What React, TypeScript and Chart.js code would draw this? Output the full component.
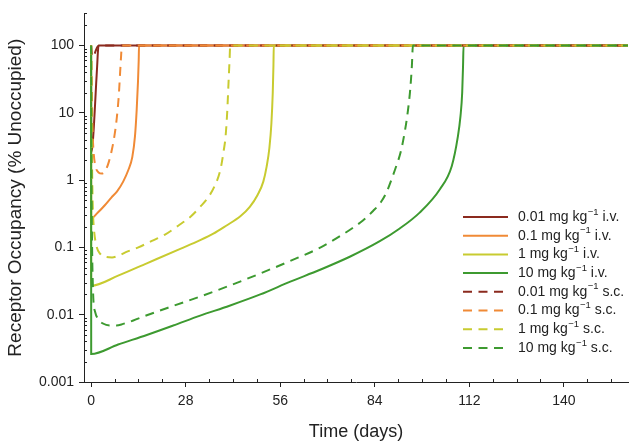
import React, { useEffect, useRef } from 'react';
import { Chart, registerables } from 'chart.js';

Chart.register(...registerables);

const FONT = '"Liberation Sans", Arial, Helvetica, sans-serif';

// axis ticks
const xTicks = [0, 28, 56, 84, 112, 140];
const yTicks = [0.001, 0.01, 0.1, 1, 10, 100];

// legend labels
const doses = ['0.01', '0.1', '1', '10'];
const routes = ['i.v.', 's.c.'];
const colors = ['#8B2A1E', '#F08A36', '#C8CB30', '#3D9A30'];

// 0.01 mg/kg i.v.
const iv001Days = [0, 0.03, 0.4, 0.8, 1.2, 1.5, 1.8, 2.0, 2.2, 159];
const iv001Vals = [100, 2.6, 3.2, 6, 14, 27, 50, 78, 100, 100];

// 0.1 mg/kg i.v.
const iv01Days = [0, 0.03, 2, 4, 6, 7.7, 9.5, 11, 12.2, 13, 13.5, 13.9, 14.1, 14.2, 159];
const iv01Vals = [100, 0.27, 0.33, 0.42, 0.55, 0.68, 0.95, 1.4, 2.2, 4.5, 11, 30, 60, 100, 100];

// 1 mg/kg i.v.
const iv1Days = [0, 0.03, 8, 16.5, 26.4, 32.3, 36.2, 40, 44.2, 47, 49.3, 51, 52, 52.8, 53.4, 53.8, 54, 54.1, 159];
const iv1Vals = [100, 0.027, 0.038, 0.058, 0.095, 0.128, 0.16, 0.21, 0.29, 0.4, 0.6, 0.95, 1.6, 3, 7, 20, 50, 100, 100];

// 10 mg/kg i.v.
const iv10Days = [0, 0.03, 8, 16.5, 24.3, 32.3, 41, 50.1, 59, 67.8, 76.6, 85.5, 91.4, 97.3, 103.3, 106.8, 108.6, 109.4, 109.9, 110.15, 110.3, 159];
const iv10Vals = [100, 0.0026, 0.0036, 0.005, 0.0069, 0.0097, 0.0136, 0.02, 0.031, 0.0465, 0.0726, 0.1236, 0.191, 0.329, 0.733, 1.61, 4.38, 9, 20, 50, 100, 100];

// 0.01 mg/kg s.c.
const sc001Days = [0, 0.15, 0.4, 0.8, 1.3, 1.8, 2.5, 159];
const sc001Vals = [100, 80, 68, 70, 82, 94, 100, 100];

// 0.1 mg/kg s.c.
const sc01Days = [0, 0.1, 0.3, 0.5, 0.8, 1.3, 2.2, 3.2, 4.3, 5.3, 6.1, 6.9, 7.6, 8.2, 8.6, 8.9, 9.1, 159];
const sc01Vals = [100, 50, 12, 4.5, 2.4, 1.6, 1.3, 1.25, 1.4, 1.9, 2.75, 4.5, 8.3, 18, 40, 72, 100, 100];

// 1 mg/kg s.c.
const sc1Days = [0, 0.1, 0.3, 0.5, 0.8, 1.5, 2.7, 4.5, 6.2, 8, 10.3, 14, 18, 21.9, 25.8, 29.6, 32.3, 34.4, 36.5, 38.3, 39.3, 39.8, 40.3, 40.7, 41, 41.2, 159];
const sc1Vals = [100, 20, 1.5, 0.4, 0.2, 0.11, 0.08, 0.072, 0.071, 0.075, 0.085, 0.1, 0.125, 0.155, 0.21, 0.29, 0.4, 0.53, 0.8, 1.43, 2.8, 4.3, 10, 28, 60, 100, 100];

// 10 mg/kg s.c.
const sc10Days = [0, 0.1, 0.3, 0.5, 0.7, 1.2, 2.2, 3.5, 5.6, 7.5, 9.5, 12.5, 16.5, 24.3, 32.3, 41, 50.1, 59, 68, 72.5, 76.9, 80.5, 83.5, 85.8, 87.5, 88.9, 90.3, 91.7, 92.9, 93.8, 94.5, 95, 95.3, 159];
const sc10Vals = [100, 2, 0.1, 0.03, 0.016, 0.011, 0.0085, 0.0074, 0.0069, 0.0069, 0.0073, 0.0082, 0.0098, 0.0135, 0.0186, 0.027, 0.041, 0.063, 0.1, 0.135, 0.186, 0.251, 0.347, 0.468, 0.66, 1.0, 1.58, 2.63, 5.25, 10.5, 22, 50, 100, 100];

const seriesDays = [iv001Days, iv01Days, iv1Days, iv10Days, sc001Days, sc01Days, sc1Days, sc10Days];
const seriesVals = [iv001Vals, iv01Vals, iv1Vals, iv10Vals, sc001Vals, sc01Vals, sc1Vals, sc10Vals];

const DASH = [9, 6.5];

const minorTicksAndLegend = {
  id: 'minorTicksAndLegend',
  afterDraw(chart: any) {
    const { ctx, chartArea, scales } = chart;
    const xs = scales.x;
    const ys = scales.y;
    ctx.save();
    ctx.strokeStyle = '#222';
    ctx.lineWidth = 1;
    ctx.setLineDash([]);
    // x minor ticks (inward)
    for (let d = 7; d <= 158; d += 7) {
      if (d % 28 === 0) continue;
      const px = Math.round(xs.getPixelForValue(d)) + 0.5;
      ctx.beginPath();
      ctx.moveTo(px, chartArea.bottom);
      ctx.lineTo(px, chartArea.bottom - 3);
      ctx.stroke();
    }
    // y minor ticks (inward)
    for (let dec = 0.001; dec < 300; dec *= 10) {
      for (let k = 2; k <= 9; k++) {
        const v = k * dec;
        if (v > 300) break;
        const py = Math.round(ys.getPixelForValue(v)) + 0.5;
        ctx.beginPath();
        ctx.moveTo(chartArea.left, py);
        ctx.lineTo(chartArea.left + 3, py);
        ctx.stroke();
      }
    }
    // legend
    let i = 0;
    for (let r = 0; r < routes.length; r++) {
      for (let d = 0; d < doses.length; d++) {
        const y = 217 + i * 18.7;
        ctx.strokeStyle = colors[d];
        ctx.lineWidth = 2;
        ctx.setLineDash(r === 1 ? DASH : []);
        ctx.beginPath();
        ctx.moveTo(463, y);
        ctx.lineTo(508, y);
        ctx.stroke();
        ctx.setLineDash([]);
        ctx.fillStyle = '#222';
        ctx.textBaseline = 'middle';
        ctx.textAlign = 'left';
        let x = 518;
        const a = `${doses[d]} mg kg`;
        ctx.font = `14px ${FONT}`;
        ctx.fillText(a, x, y);
        x += ctx.measureText(a).width + 0.5;
        ctx.font = `9.5px ${FONT}`;
        ctx.fillText('\u22121', x, y - 5);
        x += ctx.measureText('\u22121').width;
        ctx.font = `14px ${FONT}`;
        ctx.fillText(' ' + routes[r], x, y);
        i++;
      }
    }
    ctx.restore();
  },
};

export default function App() {
  const ref = useRef<HTMLCanvasElement | null>(null);

  useEffect(() => {
    if (!ref.current) return;
    Chart.defaults.font.family = FONT;
    const datasets: any[] = [];
    let idx = 0;
    for (let r = 0; r < routes.length; r++) {
      for (let d = 0; d < doses.length; d++) {
        const days = seriesDays[idx];
        const vals = seriesVals[idx];
        datasets.push({
          label: `${doses[d]} mg kg-1 ${routes[r]}`,
          data: days.map((x, j) => ({ x, y: vals[j] })),
          borderColor: colors[d],
          backgroundColor: colors[d],
          borderWidth: 2,
          borderDash: r === 1 ? DASH : [],
          pointRadius: 0,
          fill: false,
          cubicInterpolationMode: 'monotone',
          order: 8 - idx,
        });
        idx++;
      }
    }
    const chart = new Chart(ref.current, {
      type: 'line',
      data: { datasets },
      options: {
        animation: false,
        responsive: false,
        devicePixelRatio: 1,
        layout: { padding: { top: 3, right: 1, left: 0, bottom: 0 } },
        plugins: { legend: { display: false }, tooltip: { enabled: false } },
        scales: {
          x: {
            type: 'linear',
            min: -2.1,
            max: 159,
            afterBuildTicks: (s: any) => {
              s.ticks = xTicks.map((v) => ({ value: v }));
            },
            afterFit: (s: any) => {
              s.height = 64;
            },
            grid: { drawOnChartArea: false, drawTicks: true, tickLength: 5, color: '#222' },
            border: { display: true, color: '#222', width: 1 },
            ticks: {
              padding: 6,
              autoSkip: false,
              maxRotation: 0,
              color: '#222',
              font: { size: 14, family: FONT },
              callback: (v: any) => String(v),
            },
            title: {
              display: true,
              text: 'Time (days)',
              color: '#222',
              font: { size: 18, family: FONT },
              padding: { top: 0, bottom: 3 },
            },
          },
          y: {
            type: 'logarithmic',
            min: 0.001,
            max: 300,
            afterBuildTicks: (s: any) => {
              s.ticks = yTicks.map((v) => ({ value: v }));
            },
            afterFit: (s: any) => {
              s.width = 84;
            },
            grid: { drawOnChartArea: false, drawTicks: true, tickLength: 5, color: '#222' },
            border: { display: true, color: '#222', width: 1 },
            ticks: {
              padding: 5,
              autoSkip: false,
              color: '#222',
              font: { size: 14, family: FONT },
              callback: (v: any) => String(v),
            },
            title: {
              display: true,
              text: 'Receptor Occupancy (% Unoccupied)',
              color: '#222',
              font: { size: 19, family: FONT },
              padding: { top: 4, bottom: 0 },
            },
          },
        },
      } as any,
      plugins: [minorTicksAndLegend],
    });
    return () => chart.destroy();
  }, []);

  return (
    <div style={{ position: 'absolute', left: 0, top: 0, width: 629, height: 446, background: '#fff' }}>
      <canvas ref={ref} width={629} height={446} style={{ display: 'block', width: 629, height: 446 }} />
    </div>
  );
}
